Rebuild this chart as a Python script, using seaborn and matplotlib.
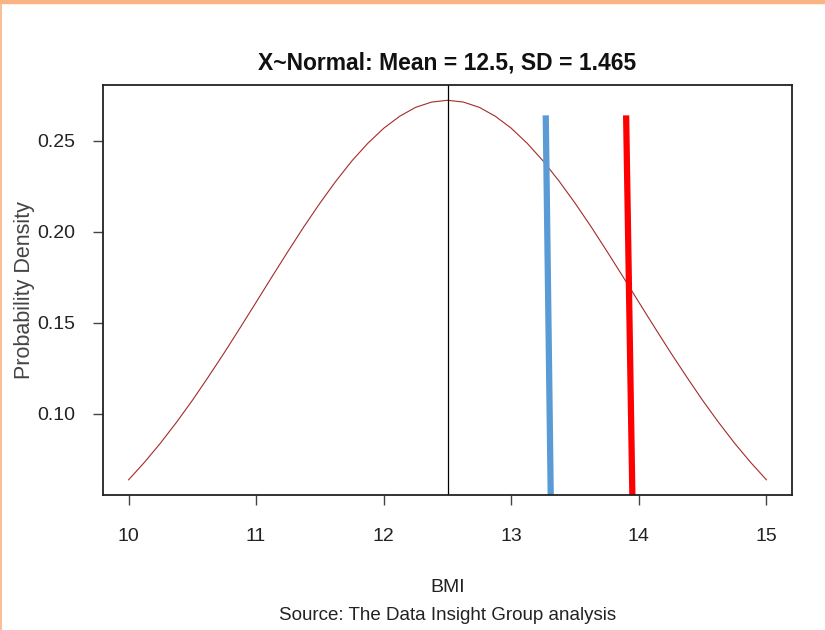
import matplotlib
matplotlib.use("Agg")
import matplotlib.pyplot as plt
from matplotlib.lines import Line2D
import seaborn as sns

# ---- data ----
bmi_x = [10.0, 10.125, 10.25, 10.375, 10.5, 10.625, 10.75, 10.875,
         11.0, 11.125, 11.25, 11.375, 11.5, 11.625, 11.75, 11.875,
         12.0, 12.125, 12.25, 12.375, 12.5, 12.625, 12.75, 12.875,
         13.0, 13.125, 13.25, 13.375, 13.5, 13.625, 13.75, 13.875,
         14.0, 14.125, 14.25, 14.375, 14.5, 14.625, 14.75, 14.875, 15.0]
density = [0.0635, 0.0732, 0.0837, 0.0951, 0.1072, 0.1201, 0.1334, 0.1472,
           0.1612, 0.1753, 0.1892, 0.2028, 0.2157, 0.2278, 0.2389, 0.2486,
           0.2569, 0.2635, 0.2684, 0.2713, 0.2723, 0.2713, 0.2684, 0.2635,
           0.2569, 0.2486, 0.2389, 0.2278, 0.2157, 0.2028, 0.1892, 0.1753,
           0.1612, 0.1472, 0.1334, 0.1201, 0.1072, 0.0951, 0.0837, 0.0732, 0.0635]
mean_x = 12.5
blue_x = [13.27, 13.31]
blue_y = [0.264, 0.05]
red_x = [13.90, 13.95]
red_y = [0.264, 0.05]
x_ticks = [10, 11, 12, 13, 14, 15]
y_ticks = [0.10, 0.15, 0.20, 0.25]
y_tick_labels = ["0.10", "0.15", "0.20", "0.25"]
title = "X~Normal: Mean = 12.5, SD = 1.465"

sns.set_theme(style="white")
plt.rcParams["font.family"] = ["Liberation Sans", "DejaVu Sans"]

fig = plt.figure(figsize=(8.25, 6.3), dpi=100)
ax = fig.add_axes([103/825, 1-495/630, (792-103)/825, (495-85)/630])

sns.lineplot(x=bmi_x, y=density, ax=ax, color="#A52A2A", linewidth=0.8,
             sort=False, estimator=None)
ax.axvline(mean_x, color="black", linewidth=0.9)
sns.lineplot(x=blue_x, y=blue_y, ax=ax, color="#5B9BD5", linewidth=4.5,
             sort=False, estimator=None, solid_capstyle="butt")
sns.lineplot(x=red_x, y=red_y, ax=ax, color="#FF0000", linewidth=4.5,
             sort=False, estimator=None, solid_capstyle="butt")

ax.set_xlim(9.8, 15.2)
ax.set_ylim(0.0552, 0.2807)
ax.set_xticks(x_ticks)
ax.set_xticklabels([str(t) for t in x_ticks])
ax.set_yticks(y_ticks)
ax.set_yticklabels(y_tick_labels)
ax.tick_params(axis="both", which="major", direction="out", length=7, width=1,
               color="#444444", labelsize=14, labelcolor="#222222", bottom=True, left=True)
ax.tick_params(axis="x", pad=17)
ax.tick_params(axis="y", pad=13)
for s in ax.spines.values():
    s.set_color("#222222")
    s.set_linewidth(1.3)
ax.grid(False)

ax.set_title(title, fontsize=16.5, fontweight="bold", pad=11, color="#111111")

fig.text(447.5/825, 1-588/630, "BMI", ha="center", va="center", fontsize=14, color="#222222")
fig.text(447.5/825, 1-616/630, "Source: The Data Insight Group analysis", ha="center", va="center",
         fontsize=13.5, color="#222222")
fig.text(25/825, 1-290/630, "Probability Density", ha="center", va="center", rotation=90,
         fontsize=15.5, color="#444444")

# orange frame (top band + left edge)
fig.add_artist(Line2D([0, 1], [1-2/630, 1-2/630], transform=fig.transFigure, color="#F9B384", linewidth=3.2))
fig.add_artist(Line2D([0.5/825, 0.5/825], [0, 1], transform=fig.transFigure, color="#F9B384", linewidth=1.2))

fig.savefig("out.png", dpi=100)
